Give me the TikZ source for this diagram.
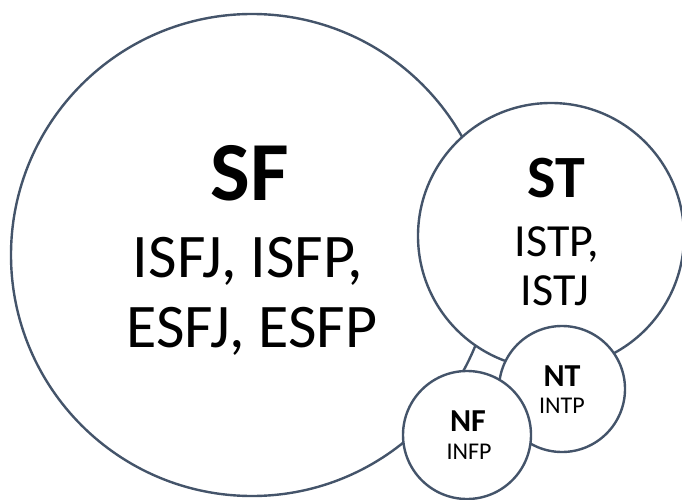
\documentclass[tikz,border=0pt]{standalone}
\usepackage{fontspec}
\setmainfont{Carlito}
\definecolor{ringline}{RGB}{68,84,106}
\tikzset{
  ring/.style={circle, draw=ringline, line width=2.4pt, fill=white, inner sep=0pt, minimum size=#1},
  lbl/.style={anchor=base, inner sep=0pt, text=black}
}
\begin{document}
\begin{tikzpicture}[x=1pt, y=-1pt]
\useasboundingbox (0,0) rectangle (682,500);
% groups, drawn back to front
\node[ring=482pt] (sf) at (252,255) {};
\node[ring=266pt] (st) at (551,236) {};
\node[ring=126pt] (nt) at (562,389) {};
\node[ring=128pt] (nf) at (467,435) {};
% SF labels
\node[lbl, font=\fontsize{84}{84}\selectfont\bfseries] (sfh) at (250,200) {SF};
\node[lbl, font=\fontsize{62}{62}\selectfont] (sf1) at (248,277) {ISFJ, ISFP,};
\node[lbl, font=\fontsize{62}{62}\selectfont] (sf2) at (252,347) {ESFJ, ESFP};
% ST labels
\node[lbl, font=\fontsize{60}{60}\selectfont\bfseries] (sth) at (556,197) {ST};
\node[lbl, font=\fontsize{46}{46}\selectfont] (st1) at (557,256) {ISTP,};
\node[lbl, font=\fontsize{46}{46}\selectfont] (st2) at (555,305) {ISTJ};
% NT labels
\node[lbl, font=\fontsize{32}{32}\selectfont\bfseries] (nth) at (562,386) {NT};
\node[lbl, font=\fontsize{24}{24}\selectfont] (nt1) at (562,413) {INTP};
% NF labels
\node[lbl, font=\fontsize{32}{32}\selectfont\bfseries] (nfh) at (468,431) {NF};
\node[lbl, font=\fontsize{24}{24}\selectfont] (nf1) at (469,459) {INFP};
\end{tikzpicture}
\end{document}
